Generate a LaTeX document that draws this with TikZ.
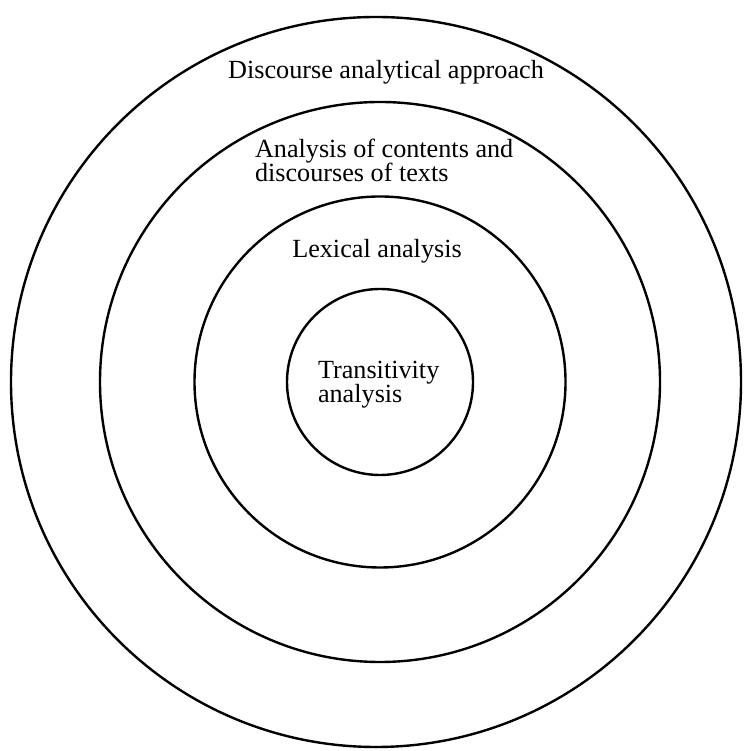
\documentclass[tikz,border=0pt]{standalone}
\usepackage{fontspec}
\setmainfont{Liberation Serif}
\usepackage{tikz}
\tikzstyle{ring}=[draw=black,line width=2.4pt]
\tikzstyle{lbl}=[inner sep=0pt,outer sep=0pt,font=\fontsize{26.2}{24.5}\selectfont]
\tikzstyle{lbl left}=[lbl,anchor=base west,align=left]

\begin{document}
\begin{tikzpicture}[x=1pt,y=1pt]
    \useasboundingbox (0,0) rectangle (744,751);

    \coordinate (centre) at (380,369);
    \coordinate (centre outer) at (376,369);

    \foreach \r in {93,185.5,280}
        \draw[ring] (centre) circle (\r);
    \draw[ring] (centre outer) circle (365);

    \node[lbl,anchor=base]  (discourse)    at (386,672) {Discourse analytical approach};
    \node[lbl left]         (contents)     at (255,569) {Analysis of contents and\\discourses of texts};
    \node[lbl,anchor=base]  (lexical)      at (377,493) {Lexical analysis};
    \node[lbl left]         (transitivity) at (318,348) {Transitivity\\analysis};

\end{tikzpicture}
\end{document}
